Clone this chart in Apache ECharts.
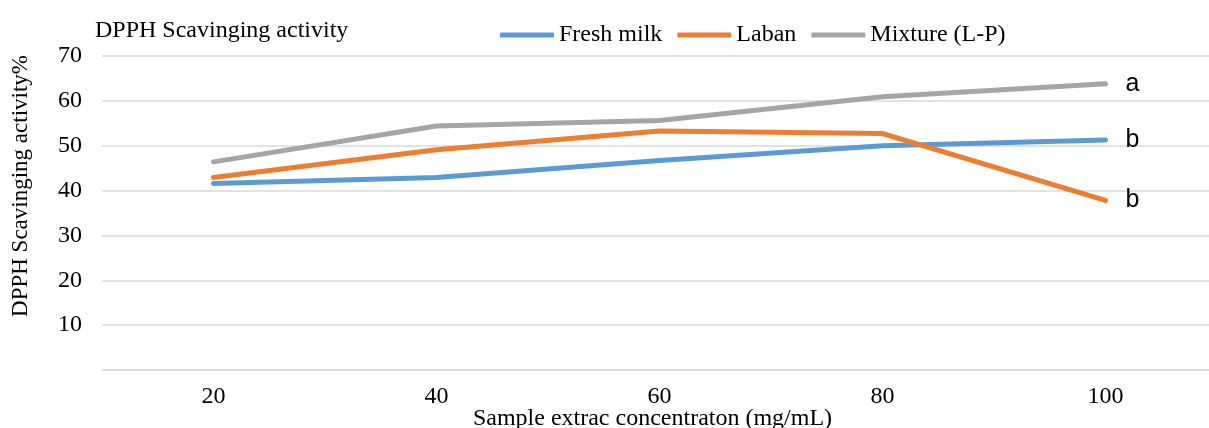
<!DOCTYPE html>
<html><head><meta charset="utf-8">
<script src="https://cdn.jsdelivr.net/npm/echarts@6/dist/echarts.min.js"></script>
<style>html,body{margin:0;padding:0;background:#fff;overflow:hidden}#c{width:1209px;height:428px}</style>
</head><body><div id="c"></div>
<script>
const categories = ['20', '40', '60', '80', '100'];
const freshMilk = [41.6, 42.9, 46.7, 50.0, 51.3];
const laban = [42.9, 49.1, 53.3, 52.7, 37.8];
const mixture = [46.4, 54.4, 55.6, 60.9, 63.8];
const seriesNames = ['Fresh milk', 'Laban', 'Mixture (L-P)'];
const sigLetters = ['b', 'b', 'a'];
const colors = ['#5B9BD5', '#ED7D31', '#A5A5A5'];
const serif = 'Liberation Serif';
const fs = 24;

const chart = echarts.init(document.getElementById('c'));
const mk = (name, data, i) => ({
  name, type: 'line', data, symbol: 'none', smooth: false,
  lineStyle: { width: 5, color: colors[i], cap: 'round', join: 'miter' },
  itemStyle: { color: colors[i] },
  endLabel: { show: true, formatter: () => sigLetters[i], fontFamily: 'Liberation Sans', fontSize: 25, color: '#000', distance: 20 },
  z: 3 + i
});
chart.setOption({
  animation: false,
  textStyle: { fontFamily: serif },
  title: { text: 'DPPH Scavinging activity', left: 90, top: 14, textStyle: { fontFamily: serif, fontSize: fs, fontWeight: 'normal', color: '#000' } },
  legend: {
    data: seriesNames, left: 495, top: 18, itemWidth: 54, itemHeight: 5, itemGap: 15,
    textStyle: { fontFamily: serif, fontSize: fs, color: '#000' },
    icon: 'roundRect'
  },
  grid: { left: 102, right: -8, top: 56, bottom: 58, containLabel: false, outerBoundsMode: 'none' },
  xAxis: {
    type: 'category', data: categories, boundaryGap: true,
    name: 'Sample extrac concentraton (mg/mL)', nameLocation: 'middle', nameGap: 37, nameMoveOverlap: false,
    nameTextStyle: { fontFamily: serif, fontSize: fs, color: '#000', padding: [0, 14, 0, 0] },
    axisLine: { show: true, lineStyle: { color: '#d9d9d9', width: 1.5 } },
    axisTick: { show: false },
    axisLabel: { fontFamily: serif, fontSize: fs, color: '#000', margin: 15 }
  },
  yAxis: {
    type: 'value', min: 0, max: 70, interval: 10,
    name: 'DPPH Scavinging activity%', nameLocation: 'middle', nameGap: 70, nameRotate: 90, nameMoveOverlap: false,
    nameTextStyle: { fontFamily: serif, fontSize: 23, color: '#000', padding: [0, 0, 0, 54] },
    axisLine: { show: false }, axisTick: { show: false },
    axisLabel: { fontFamily: serif, fontSize: fs, color: '#000', margin: 20, formatter: v => v === 0 ? '' : String(v) },
    splitLine: { show: true, lineStyle: { color: '#d9d9d9', width: 1.5 } }
  },
  series: [mk(seriesNames[0], freshMilk, 0), mk(seriesNames[1], laban, 1), mk(seriesNames[2], mixture, 2)]
});
</script></body></html>
